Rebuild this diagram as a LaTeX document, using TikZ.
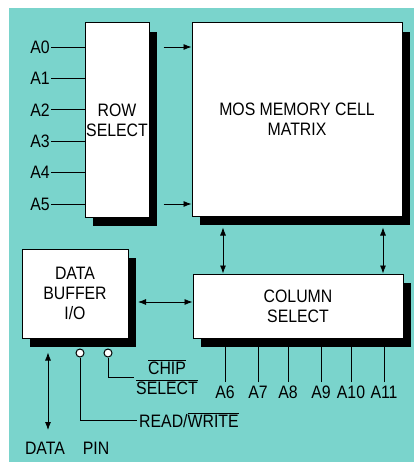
\documentclass[tikz,border=0pt]{standalone}
\usepackage{fontspec}
\newfontfamily\narrowsf[FakeStretch=0.88]{Liberation Sans}
\usetikzlibrary{arrows.meta,positioning,shadows,calc}
\definecolor{bgcyan}{RGB}{122,212,204}

\begin{document}
\begin{tikzpicture}[x=1pt,y=-1pt,
  >={Latex[length=8pt,width=6pt]},
  every node/.style={font=\narrowsf\fontsize{18}{20}\selectfont},
  blockbox/.style={draw,line width=1pt,fill=white,inner sep=0pt,align=center,
    drop shadow={shadow xshift=8pt,shadow yshift=-9pt,fill=black,opacity=1}},
  wire/.style={line width=0.8pt},
  pin/.style={circle,draw,line width=1pt,fill=white,minimum size=8pt,inner sep=0pt}]
\useasboundingbox (0,0) rectangle (414,462);
\fill[white] (0,0) rectangle (414,462);
\fill[bgcyan] (9,8) rectangle (414,462);

% blocks
\node[blockbox,minimum width=64pt,minimum height=194pt] (row) at (117,120) {ROW\\SELECT};
\node[blockbox,minimum width=210pt,minimum height=193pt] (mos) at (297,119.5) {MOS MEMORY CELL\\MATRIX};
\node[blockbox,minimum width=210pt,minimum height=64pt] (col) at (298,306) {COLUMN\\SELECT};
\node[blockbox,minimum width=106pt,minimum height=89pt] (buf) at (75,293.5) {DATA\\BUFFER\\I/O};

% row address lines
\foreach \i in {0,...,5}{
  \node[anchor=east,inner sep=1pt] (a\i) at (51,{47+31.4*\i}) {A\i};
  \draw[wire] (a\i.east) -- (a\i.east -| row.west);
}
\foreach \i in {0,5}
  \draw[wire,->] ($(a\i.east -| row.east)+(14,0)$) -- (a\i.east -| mos.west);

% column address lines
\foreach \x/\n in {225/6,258/7,288/8,321/9,351/10,384/11}{
  \node (a\n) at (\x,392) {A\n};
  \draw[wire] (a\n.north) -- (a\n.north |- col.south);
}

% data paths
\coordinate (v1) at (223,0);
\coordinate (v2) at (383,0);
\foreach \v in {v1,v2}
  \draw[wire,<->] ($(\v |- mos.south)+(0,11)$) -- (\v |- col.north);
\coordinate (dbus) at (138,302);
\draw[wire,<->] (dbus) -- (dbus -| col.west);

% pins
\node (dlab) at (45,448) {DATA};
\node (plab) at (96,448) {PIN};
\coordinate (dpin) at (48,430);
\draw[wire,<->] ($(dpin |- buf.south)+(0,14)$) -- (dpin);
\node[pin] (rw) at (80,353) {};
\node[pin] (cs) at (108,353) {};
\node[anchor=west,inner sep=2pt] (rwlab) at (137,420) {READ/$\overline{\mbox{WRITE}}$};
\node[anchor=west,inner sep=2pt,align=center] (cslab) at (134,377) {$\overline{\mbox{CHIP}}$\\$\overline{\mbox{SELECT}}$};
\draw[wire] (rw) |- (rwlab);
\draw[wire] (cs) |- (cslab);
\end{tikzpicture}
\end{document}
